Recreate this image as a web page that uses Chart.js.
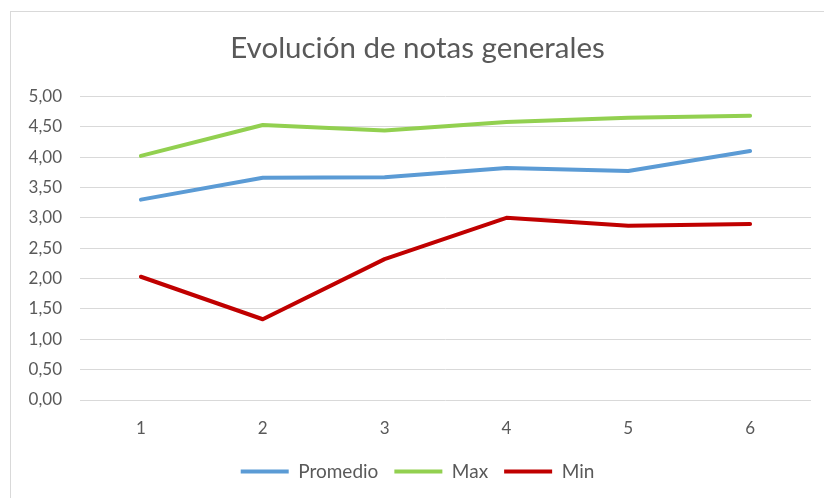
<!DOCTYPE html>
<html>
<head>
<meta charset="utf-8">
<script src="https://cdn.jsdelivr.net/npm/chart.js@4"></script>
<style>
  html, body { margin: 0; padding: 0; background: #fff; overflow: hidden; }
  #frame { position: absolute; left: 10px; top: 11px; width: 900px; height: 600px; border: 1px solid #d9d9d9; }
  #wrap { position: absolute; left: 0; top: 0; width: 824px; height: 498px; }
</style>
</head>
<body>
<div id="frame"></div>
<div id="wrap"><canvas id="myChart"></canvas></div>
<script>
const labels = ['1', '2', '3', '4', '5', '6'];
const promedio = [3.30, 3.66, 3.67, 3.82, 3.77, 4.10];
const maxNotas = [4.02, 4.53, 4.44, 4.58, 4.65, 4.68];
const minNotas = [2.03, 1.33, 2.32, 3.00, 2.87, 2.90];

const grey = '#595959';
const fontFamily = 'Lato, "Open Sans", sans-serif';

var ctx = document.getElementById('myChart').getContext('2d');
var notasChart = new Chart(ctx, {
  type: 'line',
  data: {
    labels: labels,
    datasets: [{
      label: 'Promedio',
      data: promedio,
      borderColor: '#5b9bd5',
      backgroundColor: '#5b9bd5'
    }, {
      label: 'Max',
      data: maxNotas,
      borderColor: '#92d050',
      backgroundColor: '#92d050'
    }, {
      label: 'Min',
      data: minNotas,
      borderColor: '#c00000',
      backgroundColor: '#c00000'
    }]
  },
  options: {
    responsive: true,
    maintainAspectRatio: false,
    animation: false,
    elements: {
      line: { borderWidth: 4, tension: 0, borderCapStyle: 'round', borderJoinStyle: 'round' },
      point: { radius: 0, hoverRadius: 0 }
    },
    layout: { padding: { left: 24, right: 13, top: 27, bottom: 7 } },
    plugins: {
      title: {
        display: true,
        text: 'Evolución de notas generales',
        color: grey,
        font: { family: fontFamily, size: 29.5, weight: 'normal' },
        padding: { top: 4, bottom: 30 }
      },
      legend: {
        position: 'bottom',
        labels: {
          color: grey,
          font: { family: fontFamily, size: 19 },
          boxWidth: 48,
          boxHeight: 4,
          padding: 16,
          generateLabels: function (chart) {
            return Chart.defaults.plugins.legend.labels.generateLabels(chart).map(function (l) {
              l.lineWidth = 0;
              return l;
            });
          }
        }
      },
      tooltip: { enabled: false }
    },
    scales: {
      x: {
        offset: true,
        grid: { display: false },
        border: { display: false },
        ticks: { color: grey, font: { family: fontFamily, size: 17 }, padding: 10 },
        afterFit: function (scale) { scale.height = 46; }
      },
      y: {
        min: 0,
        max: 5,
        grid: { color: '#d9d9d9', lineWidth: 1, drawTicks: false },
        border: { display: false },
        ticks: {
          stepSize: 0.5,
          color: grey,
          font: { family: fontFamily, size: 17 },
          padding: 18,
          callback: function (v) { return v.toFixed(2).replace('.', ','); }
        },
        afterFit: function (scale) { scale.width = 56; }
      }
    }
  }
});
</script>
</body>
</html>
